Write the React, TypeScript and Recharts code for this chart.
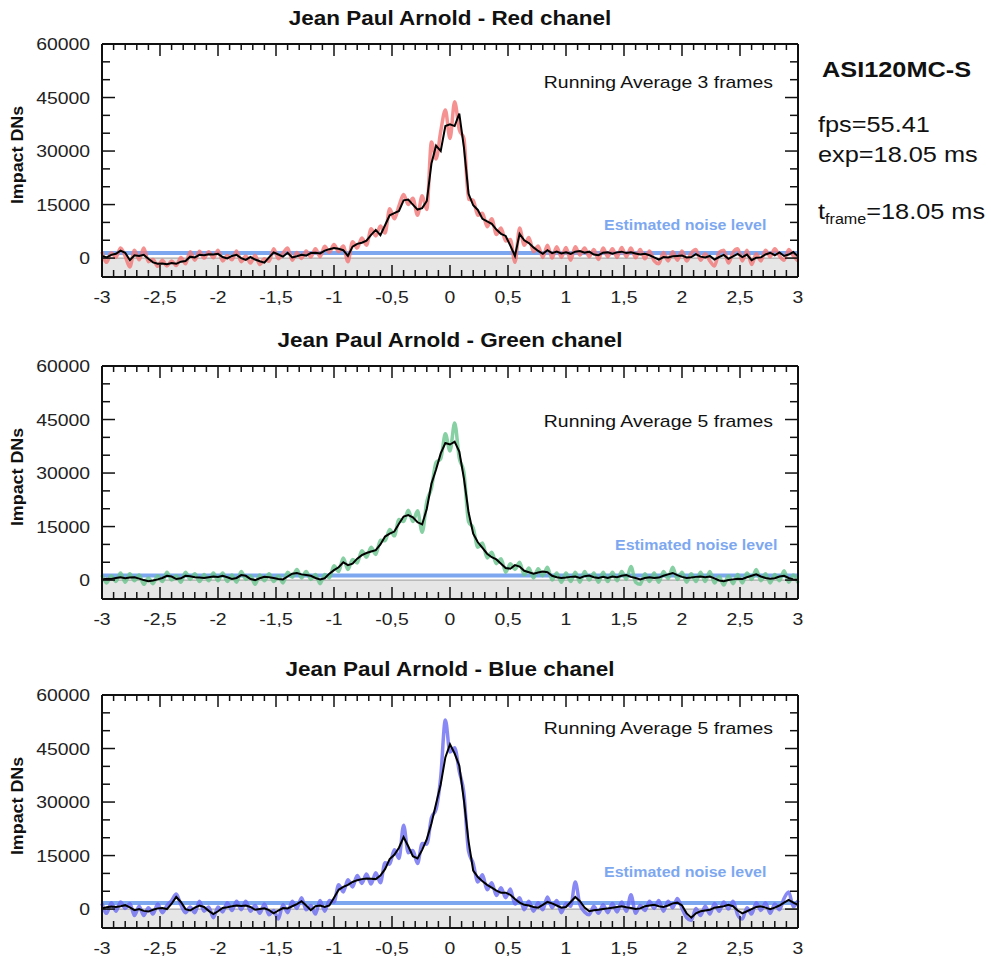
import React from 'react';
import {
  ComposedChart,
  Line,
  XAxis,
  YAxis,
  ReferenceArea,
  ReferenceLine
} from 'recharts';

// frame times (s) relative to the flash
const times = [
  -3, -2.96, -2.92, -2.88, -2.84, -2.8, -2.76, -2.72, -2.68, -2.64, -2.6, -2.56, -2.52, -2.48, -2.44, -2.4, -2.36, -2.32, -2.28, -2.24, -2.2, -2.16, -2.12, -2.08, -2.04,
  -2, -1.96, -1.92, -1.88, -1.84, -1.8, -1.76, -1.72, -1.68, -1.64, -1.6, -1.56, -1.52, -1.48, -1.44, -1.4, -1.36, -1.32, -1.28, -1.24, -1.2, -1.16, -1.12, -1.08, -1.04,
  -1, -0.96, -0.92, -0.88, -0.84, -0.8, -0.76, -0.72, -0.68, -0.64, -0.6, -0.56, -0.52, -0.48, -0.44, -0.4, -0.36, -0.32, -0.28, -0.24, -0.2, -0.16, -0.12, -0.08, -0.04,
  0, 0.04, 0.08, 0.12, 0.16, 0.2, 0.24, 0.28, 0.32, 0.36, 0.4, 0.44, 0.48, 0.52, 0.56, 0.6, 0.64, 0.68, 0.72, 0.76, 0.8, 0.84, 0.88, 0.92, 0.96,
  1, 1.04, 1.08, 1.12, 1.16, 1.2, 1.24, 1.28, 1.32, 1.36, 1.4, 1.44, 1.48, 1.52, 1.56, 1.6, 1.64, 1.68, 1.72, 1.76, 1.8, 1.84, 1.88, 1.92, 1.96,
  2, 2.04, 2.08, 2.12, 2.16, 2.2, 2.24, 2.28, 2.32, 2.36, 2.4, 2.44, 2.48, 2.52, 2.56, 2.6, 2.64, 2.68, 2.72, 2.76, 2.8, 2.84, 2.88, 2.92, 2.96, 3
];

// all values in thousands of DNs
const redRaw = [
  1.8, -1.2, 1.5, 0.2, 2.8, 0.5, -2.5, 2.2, -0.5, 2.8, -1.0, -0.4, -2.3, -0.6, -2.2, -0.8, -2.1, 0.2, -1.6, 1.8, -0.6, 1.9, 0.0, 1.8, 0.1,
  2.2, -0.8, 0.7, -0.5, 2.0, -1.0, 0.6, -1.4, 0.8, -1.8, -0.2, -0.9, 2.6, -0.2, 1.4, 2.8, -0.6, 1.6, -0.1, 2.0, 0.3, 2.6, 0.4, 3.3, 1.6,
  3.8, 1.8, 3.4, -1.0, 4.6, 2.8, 5.6, 3.6, 8.2, 6.2, 9.0, 7.0, 13.8, 11.0, 14.6, 17.8, 15.0, 16.8, 12.0, 17.5, 13.6, 32.5, 27.8, 35.5, 41.5,
  33.5, 43.8, 36.0, 33.5, 16.5, 16.2, 12.0, 12.6, 8.8, 11.0, 6.6, 8.4, 4.8, 5.2, -1.2, 8.4, 3.6, 5.8, 1.8, 3.4, 0.2, 3.6, 0.0, 3.2, 0.2,
  3.0, -0.6, 3.2, 0.8, 2.8, 0.4, 2.4, -0.4, 2.8, 0.4, 2.6, 0.2, 3.0, 0.4, 2.8, 0.1, 2.4, -0.2, 2.0, -0.8, -1.6, 1.6, -0.8, 1.8, -0.6,
  2.0, -0.8, 1.4, 2.4, -0.6, 1.2, -0.8, -2.2, 1.6, 2.2, -1.4, 1.6, 2.6, -0.8, 2.2, -1.8, 1.2, -0.8, 2.2, 0.4, 2.6, 0.6, -0.6, 2.4, 0.6, -0.8
];
const redAvg = [
  0.6, 0.2, 0.9, 1.2, 2.1, 1.5, -0.6, 0.8, 0.6, 0.9, -0.2, -1.2, -1.6, -1.5, -1.7, -1.4, -1.6, -1.0, -0.8, 0.4, 0.2, 0.9, 0.8, 1.1, 1.0,
  1.2, 0.3, -0.1, 0.6, 0.9, 0.0, -0.5, 0.3, -0.4, -0.9, -1.3, 0.2, 1.6, 1.0, 0.4, 1.5, 0.2, 0.5, 0.9, 0.7, 1.4, 1.5, 1.3, 2.1, 2.5,
  2.8, 2.6, 2.2, 0.6, 3.2, 4.0, 4.3, 4.9, 6.5, 7.9, 6.4, 9.2, 12.0, 12.6, 13.2, 16.2, 16.4, 15.0, 13.6, 14.0, 16.0, 26.5, 31.5, 30.0, 37.0,
  37.5, 37.0, 40.5, 31.0, 18.0, 14.8, 13.5, 11.0, 10.3, 9.6, 8.0, 6.8, 6.2, 3.5, 0.6, 6.8, 5.0, 4.2, 3.0, 2.0, 1.2, 2.2, 1.4, 1.8, 1.3,
  1.6, 1.2, 1.8, 2.0, 1.5, 1.8, 1.0, 0.8, 1.5, 1.6, 1.2, 1.6, 1.8, 1.4, 1.6, 1.3, 1.0, 1.2, 0.8, 0.2, -0.4, 0.3, 0.2, 0.5, 0.6,
  0.7, 0.2, 0.3, 1.1, 0.4, 0.2, 0.6, -0.4, 0.3, 0.9, -0.2, 0.5, 1.2, 0.3, 1.0, -0.6, 0.1, 0.2, 1.0, 1.5, 0.8, 1.6, 0.6, 1.0, 1.7, 0.4
];

const greenRaw = [
  1.4, -0.8, 1.2, -0.4, 2.0, -0.6, 1.8, -0.2, 1.4, -1.2, 0.6, -1.0, 1.2, -0.4, 2.2, 0.0, 1.2, -0.6, 2.2, 0.2, 1.8, -0.4, 1.6, -0.2, 2.0,
  -0.2, 2.0, -0.4, 1.4, -0.6, 2.4, 0.2, 1.2, -1.2, 1.4, -0.2, 1.8, -0.4, 1.2, -0.8, 2.2, 0.8, 3.0, 0.6, 2.4, 0.2, 1.6, -1.0, 1.6, 0.6,
  4.0, 2.4, 6.2, 3.0, 5.8, 4.8, 8.2, 6.4, 9.2, 7.2, 11.2, 11.0, 14.2, 12.4, 17.0, 16.4, 19.6, 16.4, 19.4, 13.4, 22.0, 25.8, 33.0, 34.0, 41.0,
  36.2, 44.0, 34.2, 30.2, 16.4, 14.6, 9.2, 10.4, 6.2, 7.8, 4.6, 6.0, 2.2, 4.6, 3.0, 5.0, 1.4, 3.4, 0.6, 3.2, 1.2, 3.6, 0.0, 2.0, -0.6,
  2.0, -0.4, 2.2, -0.6, 2.4, 0.0, 2.0, -0.6, 2.2, -0.4, 2.2, -0.2, 2.4, 0.2, 3.8, -0.6, -1.2, 1.8, -0.4, 2.0, -0.6, 2.4, 0.4, 3.6, 0.2,
  2.2, -0.6, 1.8, -0.4, 2.2, -0.4, 2.4, -0.8, 1.0, -1.4, 1.2, -1.0, 1.6, -0.8, 2.0, 0.2, 3.0, -0.2, 1.8, -0.8, 1.6, -0.2, 2.6, -0.6, 1.4, -0.8
];
const greenAvg = [
  0.2, 0.4, 0.3, 0.6, 0.8, 0.5, 0.7, 0.8, 0.4, 0.0, -0.3, -0.1, 0.2, 0.6, 1.2, 1.0, 0.3, 0.5, 1.2, 1.1, 0.8, 0.7, 0.6, 0.8, 1.0,
  0.9, 1.2, 0.8, 0.3, 0.6, 1.4, 1.2, 0.3, 0.0, 0.5, 0.9, 0.8, 0.6, 0.3, 0.2, 1.0, 1.8, 2.0, 1.6, 1.4, 1.2, 0.6, 0.2, 0.5, 1.8,
  2.8, 3.6, 5.0, 4.2, 4.6, 6.0, 7.0, 7.6, 8.0, 8.4, 10.0, 12.2, 13.0, 13.6, 15.8, 17.8, 18.2, 17.6, 16.2, 15.6, 20.0, 27.0, 31.0, 35.5, 38.4,
  38.0, 38.8, 36.0, 28.5, 19.0, 13.0, 10.6, 9.0, 7.4, 6.4, 5.8, 4.6, 3.4, 3.2, 4.2, 3.8, 2.6, 2.2, 1.8, 2.1, 2.4, 2.2, 1.2, 0.8, 0.6,
  0.7, 0.9, 1.0, 0.6, 1.1, 1.3, 0.8, 0.6, 0.9, 0.6, 1.0, 0.8, 1.2, 1.4, 0.9, 0.6, 0.2, 0.6, 0.8, 0.6, 0.7, 1.2, 1.6, 2.0, 1.4,
  0.9, 0.6, 0.7, 0.9, 1.0, 0.8, 1.0, 0.5, -0.1, -0.3, 0.0, 0.2, 0.4, 0.3, 0.8, 1.2, 1.6, 1.0, 0.6, 0.4, 0.5, 1.0, 1.2, 0.6, 0.2, 0.1
];

const blueRaw = [
  1.6, -1.2, 1.8, -0.6, 2.0, 0.2, 1.6, -1.8, 0.8, -1.8, 0.4, -1.4, 1.4, -1.0, 1.0, 2.4, 4.2, 1.2, -1.0, 0.6, -1.0, 2.2, -0.6, 0.6, -2.4,
  0.6, -0.8, 1.8, -0.4, 2.2, -0.2, 2.2, -0.6, 1.0, -1.2, 1.4, -1.6, -0.4, -2.8, 1.2, -1.0, 2.2, 0.2, 3.2, -0.2, 1.0, -1.4, 2.4, -0.6, 2.4,
  2.0, 6.8, 4.8, 8.2, 6.2, 9.4, 7.2, 9.8, 7.0, 10.2, 7.4, 13.0, 12.6, 16.6, 14.2, 23.5, 15.8, 16.4, 12.8, 18.4, 18.2, 25.6, 28.0, 37.0, 53.0,
  44.0, 45.2, 38.6, 32.5, 16.2, 12.8, 7.6, 9.6, 5.4, 7.4, 3.8, 6.0, 3.2, 5.6, 1.4, 3.2, -0.2, 2.2, -0.6, 1.8, -0.2, 3.4, 0.4, 2.4, -1.0,
  1.6, 0.8, 7.6, 1.2, -0.8, -1.6, 0.8, -1.2, 1.2, -1.0, 1.6, -0.8, 2.0, -0.6, 4.0, -1.2, 1.0, -0.4, 2.2, 0.2, 2.4, -0.6, 2.2, 0.4, 3.0,
  0.2, -2.4, -3.2, 0.2, -1.8, 0.8, -1.4, 1.6, -0.6, 2.0, 0.0, 2.2, -1.6, -2.8, 0.4, -1.4, 1.8, -0.4, 1.8, -1.2, 1.4, -0.2, 3.0, 4.8, 0.6, 2.4
];
const blueAvg = [
  0.2, 0.5, 0.7, 0.6, 0.8, 1.1, 0.5, -0.3, 0.0, -0.5, -0.7, -0.2, 0.2, 0.3, 0.0, 1.5, 3.4, 2.0, 0.0, -0.4, 0.4, 1.0, 0.6, -0.5, -1.4,
  -0.6, 0.3, 0.5, 0.8, 1.0, 0.9, 1.0, 0.6, -0.2, 0.0, 0.2, -0.3, -1.2, -0.4, 0.3, 0.2, 0.8, 1.4, 2.2, 1.0, -0.3, 0.8, 1.0, 0.6, 1.0,
  3.2, 5.4, 6.2, 6.8, 7.6, 8.1, 8.4, 8.6, 8.5, 8.4, 9.4, 11.2, 14.0, 15.2, 17.2, 20.2, 17.6, 14.8, 14.2, 16.6, 19.6, 24.0, 29.5, 35.0, 42.5,
  46.2, 43.6, 40.2, 30.5, 19.0, 10.8, 9.0, 7.8, 6.8, 6.0, 5.2, 4.6, 4.6, 4.0, 2.8, 1.8, 1.2, 1.0, 0.6, 0.4, 1.2, 2.0, 1.6, 1.0, 0.4,
  0.6, 2.0, 3.4, 2.2, 0.4, -0.6, -0.3, -0.2, 0.0, 0.2, 0.4, 0.6, 0.8, 0.5, 0.3, 0.0, 0.2, 0.8, 1.0, 1.2, 0.8, 0.6, 1.0, 1.6, 1.8,
  1.0, -1.2, -2.4, -1.2, -0.6, -0.4, -0.2, 0.4, 0.6, 0.8, 1.2, 0.8, -0.4, -1.2, -0.6, 0.0, 0.6, 0.8, 0.4, 0.0, 0.4, 1.0, 1.8, 2.6, 1.8, 1.2
];

const xMajorTicks = [-3, -2.5, -2, -1.5, -1, -0.5, 0, 0.5, 1, 1.5, 2, 2.5, 3];
const yMajorTicks = [0, 15000, 30000, 45000, 60000];
const yMinorTicks = [5000, 10000, 20000, 25000, 35000, 40000, 50000, 55000];

const xAllTicks: number[] = [];
for (let i = 0; i <= 60; i++) xAllTicks.push(Math.round((-3 + i * 0.1) * 10) / 10);
const yAllTicks = [...yMajorTicks, ...yMinorTicks].sort((a, b) => a - b);

const Y_MIN = -5300;
const Y_MAX = 60000;
const AXIS = '#111';
const NOISE = '#7da8f0';
const FONT = '"Liberation Sans", Arial, sans-serif';
const SX = 1.14; // the original lettering is a bit wide

const isMajorX = (v: number) => xMajorTicks.some(m => Math.abs(m - v) < 1e-6);
const isMajorY = (v: number) => yMajorTicks.includes(v);
const fmtX = (v: number) => String(v).replace('.', ',');

const BottomTick = (p: any) => {
  const { x, y, payload } = p;
  const major = isMajorX(payload.value);
  const ay = y - 20;
  return (
    <g>
      <line x1={x} x2={x} y1={ay} y2={ay - (major ? 12 : 7)} stroke={AXIS} strokeWidth={1.5} />
      {major && (
        <g transform={`translate(${x},${y}) scale(${SX},1)`}>
          <text x={0} y={0} dy="0.355em" textAnchor="middle" fontSize={17} fill="#222" fontFamily={FONT}>
            {fmtX(payload.value)}
          </text>
        </g>
      )}
    </g>
  );
};

const TopTick = (p: any) => {
  const { x, y, payload } = p;
  const major = isMajorX(payload.value);
  return <line x1={x} x2={x} y1={y} y2={y + (major ? 12 : 6)} stroke={AXIS} strokeWidth={1.5} />;
};

const LeftTick = (p: any) => {
  const { x, y, payload } = p;
  const major = isMajorY(payload.value);
  const ax = x + 12;
  return (
    <g>
      <line x1={ax} x2={ax + (major ? 13 : 8)} y1={y} y2={y} stroke={AXIS} strokeWidth={1.5} />
      {major && (
        <g transform={`translate(${x},${y}) scale(${SX},1)`}>
          <text x={0} y={0} dy="0.355em" textAnchor="end" fontSize={17} fill="#222" fontFamily={FONT}>
            {payload.value}
          </text>
        </g>
      )}
    </g>
  );
};

const RightTick = (p: any) => {
  const { x, y, payload } = p;
  const major = isMajorY(payload.value);
  return <line x1={x} x2={x - (major ? 13 : 8)} y1={y} y2={y} stroke={AXIS} strokeWidth={1.5} />;
};

interface PanelProps {
  top: number;
  title: string;
  avgLabel: string;
  raw: number[];
  avg: number[];
  color: string;
  noise: number;
  noiseLabelX: number;
  noiseLabelY: number;
  avgLabelY: number;
}

const Panel: React.FC<PanelProps> = ({ top, title, avgLabel, raw, avg, color, noise, noiseLabelX, noiseLabelY, avgLabelY }) => {
  const data = times.map((t, i) => ({ t, raw: raw[i] * 1000, avg: avg[i] * 1000 }));
  return (
    <div style={{ position: 'absolute', left: 0, top, width: 991, height: 308 }}>
      <ComposedChart width={991} height={308} data={data} margin={{ top: 43, right: 192, bottom: 1, left: 42 }}>
        <XAxis
          dataKey="t"
          type="number"
          domain={[-3, 3]}
          ticks={xAllTicks}
          interval={0}
          height={30}
          tickSize={0}
          tickMargin={20}
          tickLine={false}
          axisLine={{ stroke: AXIS, strokeWidth: 2 }}
          tick={(p: any) => <BottomTick {...p} />}
        />
        <XAxis
          xAxisId="top"
          orientation="top"
          dataKey="t"
          type="number"
          domain={[-3, 3]}
          ticks={xAllTicks}
          interval={0}
          height={1}
          tickSize={0}
          tickMargin={0}
          tickLine={false}
          axisLine={{ stroke: AXIS, strokeWidth: 2 }}
          tick={(p: any) => <TopTick {...p} />}
        />
        <YAxis
          type="number"
          domain={[Y_MIN, Y_MAX]}
          allowDataOverflow
          ticks={yAllTicks}
          interval={0}
          width={60}
          tickSize={0}
          tickMargin={12}
          tickLine={false}
          axisLine={{ stroke: AXIS, strokeWidth: 2 }}
          tick={(p: any) => <LeftTick {...p} />}
        />
        <YAxis
          yAxisId="right"
          orientation="right"
          type="number"
          domain={[Y_MIN, Y_MAX]}
          allowDataOverflow
          ticks={yAllTicks}
          interval={0}
          width={1}
          tickSize={0}
          tickMargin={0}
          tickLine={false}
          axisLine={{ stroke: AXIS, strokeWidth: 2 }}
          tick={(p: any) => <RightTick {...p} />}
        />
        <ReferenceArea y1={Y_MIN} y2={0} fill="#e6e6e6" fillOpacity={1} stroke="none" ifOverflow="hidden" />
        <ReferenceLine y={0} stroke="#9a9a9a" strokeWidth={1} />
        <ReferenceLine y={noise} stroke={NOISE} strokeWidth={4} />
        {/* invisible twin so the mirrored top/right frame axes are bound to data */}
        <Line xAxisId="top" yAxisId="right" type="linear" dataKey="avg" stroke="none" strokeOpacity={0} dot={false} activeDot={false} isAnimationActive={false} />
        <Line type="monotone" dataKey="raw" stroke={color} strokeWidth={3.5} strokeOpacity={0.8} dot={false} isAnimationActive={false} />
        <Line type="linear" dataKey="avg" stroke="#000" strokeWidth={2} dot={false} isAnimationActive={false} />
      </ComposedChart>
      <div style={{ position: 'absolute', left: 150, top: 5, width: 600, textAlign: 'center', fontWeight: 'bold', fontSize: 21, lineHeight: '26px', transform: 'scaleX(1.07)' }}>
        {title}
      </div>
      <div style={{ position: 'absolute', right: 991 - 773, top: avgLabelY - top - 12, fontSize: 17, lineHeight: '24px', color: '#111', whiteSpace: 'nowrap', transform: `scaleX(${SX})`, transformOrigin: 'right center' }}>
        {avgLabel}
      </div>
      <div style={{ position: 'absolute', left: noiseLabelX, top: noiseLabelY - top - 10, fontSize: 14, fontWeight: 'bold', lineHeight: '20px', color: NOISE, whiteSpace: 'nowrap', transform: `scaleX(${SX})`, transformOrigin: 'left center' }}>
        Estimated noise level
      </div>
      <div style={{ position: 'absolute', left: 18 - 60, top: 155 - 12, width: 120, textAlign: 'center', fontSize: 17, fontWeight: 'bold', lineHeight: '24px', transform: `rotate(-90deg) scaleX(1.05)`, whiteSpace: 'nowrap' }}>
        Impact DNs
      </div>
    </div>
  );
};

const sideText: React.CSSProperties = { position: 'absolute', left: 818, fontSize: 22, lineHeight: '26px', whiteSpace: 'nowrap', transform: 'scaleX(1.15)', transformOrigin: 'left center' };

const App: React.FC = () => {
  return (
    <div style={{ position: 'fixed', left: 0, top: 0, width: 991, height: 959, overflow: 'hidden', background: '#fff', fontFamily: FONT, color: '#111' }}>
      <Panel top={0} title="Jean Paul Arnold - Red chanel" avgLabel="Running Average 3 frames" raw={redRaw} avg={redAvg}
        color="#f27575" noise={1400} noiseLabelX={604} noiseLabelY={225} avgLabelY={83} />
      <Panel top={322} title="Jean Paul Arnold - Green chanel" avgLabel="Running Average 5 frames" raw={greenRaw} avg={greenAvg}
        color="#68c48c" noise={1300} noiseLabelX={615} noiseLabelY={545} avgLabelY={422} />
      <Panel top={651} title="Jean Paul Arnold - Blue chanel" avgLabel="Running Average 5 frames" raw={blueRaw} avg={blueAvg}
        color="#6b6bf2" noise={1700} noiseLabelX={604} noiseLabelY={872} avgLabelY={729} />

      <div style={{ ...sideText, left: 822, top: 57, fontWeight: 'bold' }}>ASI120MC-S</div>
      <div style={{ ...sideText, top: 112 }}>fps=55.41</div>
      <div style={{ ...sideText, top: 142 }}>exp=18.05 ms</div>
      <div style={{ ...sideText, top: 199 }}>
        t<sub style={{ fontSize: 14 }}>frame</sub>=18.05 ms
      </div>
    </div>
  );
};

export default App;
